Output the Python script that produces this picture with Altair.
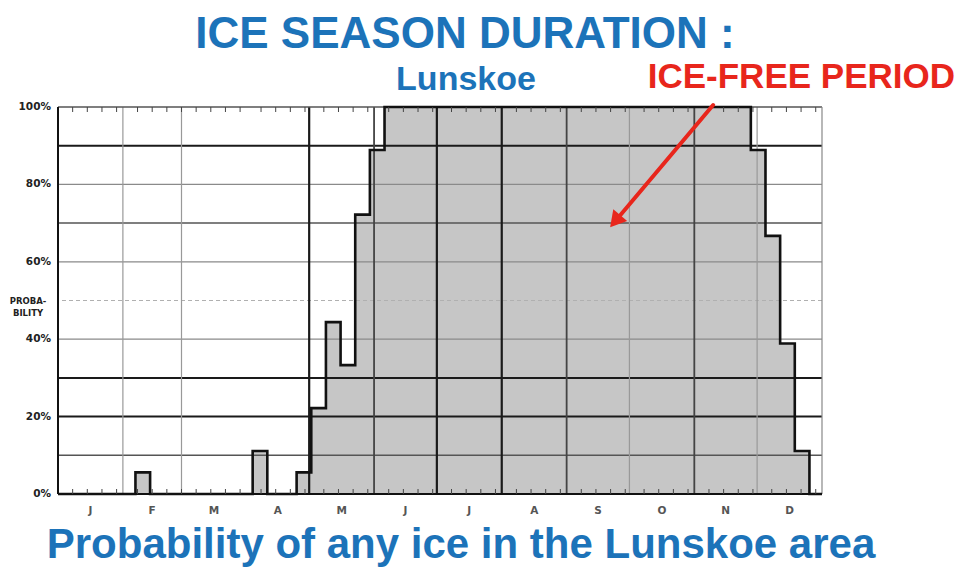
import altair as alt
import pandas as pd

# ---- data ----
# step change points: day of year where a weekly bin starts, probability of ice (%)
step_day = [0, 37, 44, 93, 100, 114, 121, 128, 135, 142, 149, 156, 331, 338, 345, 352, 359, 365]
step_prob = [0, 5.6, 0, 11.1, 0, 5.6, 22.2, 44.4, 33.3, 72.2, 88.9, 100, 88.9, 66.7, 38.9, 11.1, 0, 0]

month_letters = ["J", "F", "M", "A", "M", "J", "J", "A", "S", "O", "N", "D"]
month_lengths = [31, 28, 31, 30, 31, 30, 31, 31, 30, 31, 30, 31]
y_tick_values = [0, 20, 40, 60, 80, 100]
y_tick_labels = ["0%", "20%", "40%", "60%", "80%", "100%"]

h_grid_heavy = [20, 30, 90]
h_grid_medium = [10, 70]
h_grid_light = [40, 60, 80]
h_grid_dashed = [50]
v_grid_heavy = [120, 181, 212]
v_grid_medium = [151, 243, 304]
v_grid_light = [31, 59, 273, 334]

arrow_tail = (313, 100.5)
arrow_head = (267, 71)

# ---- derived tables ----
month_start = [sum(month_lengths[:i]) for i in range(12)]
month_end = [s + l for s, l in zip(month_start, month_lengths)]
months_df = pd.DataFrame({
    "mid": [(s + e) / 2 for s, e in zip(month_start, month_end)],
    "m": month_letters,
})
tick_df = pd.DataFrame({"d": [s + k for s in month_start for k in (7, 14, 21, 28)]})
step_df = pd.DataFrame({"day": step_day, "p": step_prob})
ylab_df = pd.DataFrame({"v": y_tick_values, "t": y_tick_labels})

W, H = 764, 387
xs = alt.Scale(domain=[0, 365], nice=False, zero=False)
ys = alt.Scale(domain=[0, 100], nice=False)
BLUE = "#1c73b9"
RED = "#e8261c"


def hrules(vals, color, width, dash=None):
    kw = dict(color=color, strokeWidth=width)
    if dash:
        kw["strokeDash"] = dash
    return alt.Chart(pd.DataFrame({"v": vals})).mark_rule(**kw).encode(
        y=alt.Y("v:Q", scale=ys, axis=None))


def vrules(vals, color, width):
    return alt.Chart(pd.DataFrame({"v": vals})).mark_rule(color=color, strokeWidth=width).encode(
        x=alt.X("v:Q", scale=xs, axis=None))


area = alt.Chart(step_df).mark_area(interpolate="step-after", color="#c6c6c6").encode(
    x=alt.X("day:Q", scale=xs, axis=None),
    y=alt.Y("p:Q", scale=ys, axis=None),
)

step_line = alt.Chart(step_df).mark_line(
    interpolate="step-after", color="#111", strokeWidth=2.6).encode(
    x=alt.X("day:Q", scale=xs, axis=None),
    y=alt.Y("p:Q", scale=ys, axis=None),
)

grids = [
    hrules(h_grid_dashed, "#b0b0b0", 1, [4, 3]),
    hrules(h_grid_light, "#8a8a8a", 1.2),
    hrules(h_grid_medium, "#555", 1.5),
    hrules(h_grid_heavy, "#1a1a1a", 2),
    vrules(v_grid_light, "#999", 1.2),
    vrules(v_grid_medium, "#444", 1.8),
    vrules(v_grid_heavy, "#1a1a1a", 2.2),
    hrules([100], "#555", 1.5),
    vrules([365], "#888", 1.2),
    vrules([0], "#111", 2),
]

ticks_bottom = alt.Chart(tick_df).mark_rule(color="#444", strokeWidth=1).encode(
    x=alt.X("d:Q", scale=xs, axis=None), y=alt.value(H - 5), y2=alt.value(H))
ticks_top = alt.Chart(tick_df).mark_rule(color="#444", strokeWidth=1).encode(
    x=alt.X("d:Q", scale=xs, axis=None), y=alt.value(0), y2=alt.value(5))
bottom_line = hrules([0], "#111", 2)

month_labels = alt.Chart(months_df).mark_text(
    font="DejaVu Sans", fontWeight="bold", fontSize=10.5, color="#555", baseline="middle").encode(
    x=alt.X("mid:Q", scale=xs, axis=None), y=alt.value(H + 17), text="m:N")

y_labels = alt.Chart(ylab_df).mark_text(
    font="DejaVu Sans", fontWeight="bold", fontSize=10.5, color="#222",
    align="right", baseline="middle").encode(
    y=alt.Y("v:Q", scale=ys, axis=None), x=alt.value(-7), text="t:N")

proba = alt.Chart(pd.DataFrame({"v": [50], "t": ["PROBA-\nBILITY"]})).mark_text(
    font="DejaVu Sans", fontWeight="bold", fontSize=8.5, color="#222",
    lineBreak="\n", align="center", baseline="middle", lineHeight=12).encode(
    y=alt.Y("v:Q", scale=ys, axis=None), x=alt.value(-30), text="t:N")


def label(txt, x, y, size, color, align="center"):
    return alt.Chart(pd.DataFrame({"t": [txt]})).mark_text(
        font="Liberation Sans", fontWeight="bold", fontSize=size, color=color,
        align=align, baseline="alphabetic").encode(
        x=alt.value(x), y=alt.value(y), text="t:N")


title = label("ICE SEASON DURATION :", 407, -59, 44, BLUE)
sub = label("Lunskoe", 408, -17, 34, BLUE)
icefree = label("ICE-FREE PERIOD", 897, -19, 35, RED, align="right")
bottom_text = label("Probability of any ice in the Lunskoe area", 403, 451, 42, BLUE)

arrow_df = pd.DataFrame({"x": [arrow_tail[0]], "y": [arrow_tail[1]],
                         "x2": [arrow_head[0]], "y2": [arrow_head[1]]})
arrow_line = alt.Chart(arrow_df).mark_rule(color=RED, strokeWidth=4, strokeCap="round").encode(
    x=alt.X("x:Q", scale=xs, axis=None), y=alt.Y("y:Q", scale=ys, axis=None),
    x2="x2:Q", y2="y2:Q")
arrow_tip = alt.Chart(arrow_df).mark_point(
    shape="triangle", angle=220, size=330, filled=True, color=RED, opacity=1).encode(
    x=alt.X("x2:Q", scale=xs, axis=None), y=alt.Y("y2:Q", scale=ys, axis=None))

chart = alt.layer(
    area, *grids, step_line, bottom_line, ticks_bottom, ticks_top, month_labels, y_labels, proba,
    title, sub, icefree, bottom_text, arrow_line, arrow_tip,
).properties(
    width=W, height=H,
    padding={"left": 50, "top": 99, "right": 136, "bottom": 74},
    autosize=alt.AutoSizeParams(type="none"),
    background="white",
).configure_view(stroke=None)

chart.save("out.html", embed_options={"renderer": "svg", "actions": False})
